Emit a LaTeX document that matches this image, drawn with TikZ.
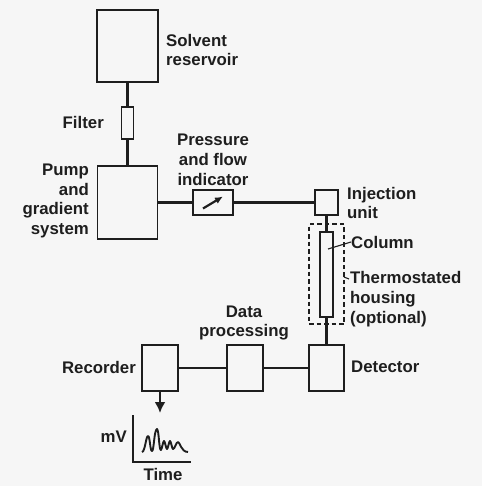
\documentclass[tikz,border=0pt]{standalone}
\usepackage{fontspec}
\setmainfont{Liberation Sans}
\usetikzlibrary{arrows.meta}
\definecolor{ink}{HTML}{1E1E1E}
\definecolor{bg}{HTML}{F6F6F6}
\tikzset{
  box/.style={draw=ink, line width=1.8pt, fill=bg, minimum width=#1, inner sep=0pt},
  conn/.style={draw=ink, line width=2.4pt},
  lbl/.style={text=ink, font=\fontsize{16.8}{19.8}\selectfont\bfseries, inner sep=0pt},
  lead/.style={draw=ink, line width=1.1pt}
}
\begin{document}
\begin{tikzpicture}[x=1pt,y=-1pt]
\useasboundingbox[fill=bg] (0,0) rectangle (482,486);
% boxes
\node[box=61pt, minimum height=72pt] (solvent) at (127.5,46) {};
\node[box=12pt, minimum height=32pt] (filter) at (127.5,123) {};
\node[box=60pt, minimum height=73pt] (pump) at (127.5,202.5) {};
\node[box=40pt, minimum height=25pt] (ind) at (213,202.5) {};
\node[box=23pt, minimum height=25pt] (inj) at (326.5,202.5) {};
\node[draw=ink, dash pattern=on 4.5pt off 3pt, line width=1.5pt, minimum width=35pt, minimum height=100pt, inner sep=0pt] (house) at (326.5,274) {};
\node[box=13pt, minimum height=85pt] (col) at (326.5,274.5) {};
\node[box=35pt, minimum height=46pt] (det) at (326.5,368) {};
\node[box=36pt, minimum height=46pt] (data) at (245,368) {};
\node[box=36pt, minimum height=46pt] (rec) at (160,368) {};
% connectors
\draw[conn] (solvent.south) -- (filter.north);
\draw[conn] (filter.south) -- (pump.north);
\draw[conn] (pump.east) -- (ind.west);
\draw[conn] (ind.east) -- (inj.west);
\draw[conn] (inj.south) -- (col.north);
\draw[conn] (col.south) -- (det.north);
\draw[conn] (det.west) -- (data.east);
\draw[conn] (data.west) -- (rec.east);
\coordinate (arrowend) at (160,413);
\draw[conn, -{Latex[length=11pt,width=11pt]}] (rec.south) -- (arrowend);
% indicator needle
\coordinate (n1) at (203,208.5);
\coordinate (n2) at (223,196.5);
\draw[draw=ink, line width=2.2pt, -{Latex[length=8pt,width=7pt]}] (n1) -- (n2);
% chart
\coordinate (ax1) at (133,415);
\coordinate (ax0) at (133,462);
\coordinate (ax2) at (191,462);
\draw[draw=ink, line width=1.3pt] (ax1) -- (ax0) -- (ax2);
\draw[draw=ink, line width=1.9pt, line join=round]
  (142,452) .. controls (145,452) and (146,436) .. (148,436)
  .. controls (150,436) and (150,451) .. (152,451)
  .. controls (154,451) and (154,430) .. (157,429)
  .. controls (159,430) and (159,451) .. (161,450)
  .. controls (162,449) and (163,441) .. (164,441)
  .. controls (165,441) and (166,449) .. (167,449)
  .. controls (168,449) and (169,441) .. (170,441)
  .. controls (171,441) and (172,449) .. (173,449)
  .. controls (175,449) and (176,442) .. (178,442)
  .. controls (180,442) and (181,452) .. (188,452);
% labels
\node[lbl, anchor=west, align=left] (tsolv) at (166,50) {Solvent\\reservoir};
\node[lbl, anchor=east] (tfilt) at (104,122) {Filter};
\node[lbl, anchor=east, align=right] (tpump) at (89,201) {Pump\\and\\gradient\\system};
\node[lbl, align=center] (tind) at (213,160) {Pressure\\and flow\\indicator};
\node[lbl, anchor=west, align=left] (tinj) at (347,203) {Injection\\unit};
\node[lbl, anchor=west] (tcol) at (351,242) {Column};
\node[lbl, anchor=west, align=left] (thouse) at (350,299) {Thermostated\\housing\\(optional)};
\node[lbl, align=center] (tdata) at (244,323) {Data\\processing};
\node[lbl, anchor=east] (trec) at (136,367) {Recorder};
\node[lbl, anchor=west] (tdet) at (351,367) {Detector};
\node[lbl, anchor=east] (tmv) at (127,437) {mV};
\node[lbl] (ttime) at (163,474) {Time};
% leaders
\coordinate (c1) at (328,249);
\draw[lead] (c1) -- (tcol.west);
\coordinate (h1) at (344,277);
\coordinate (h2) at (349,279);
\draw[lead] (h1) -- (h2);
\end{tikzpicture}
\end{document}
